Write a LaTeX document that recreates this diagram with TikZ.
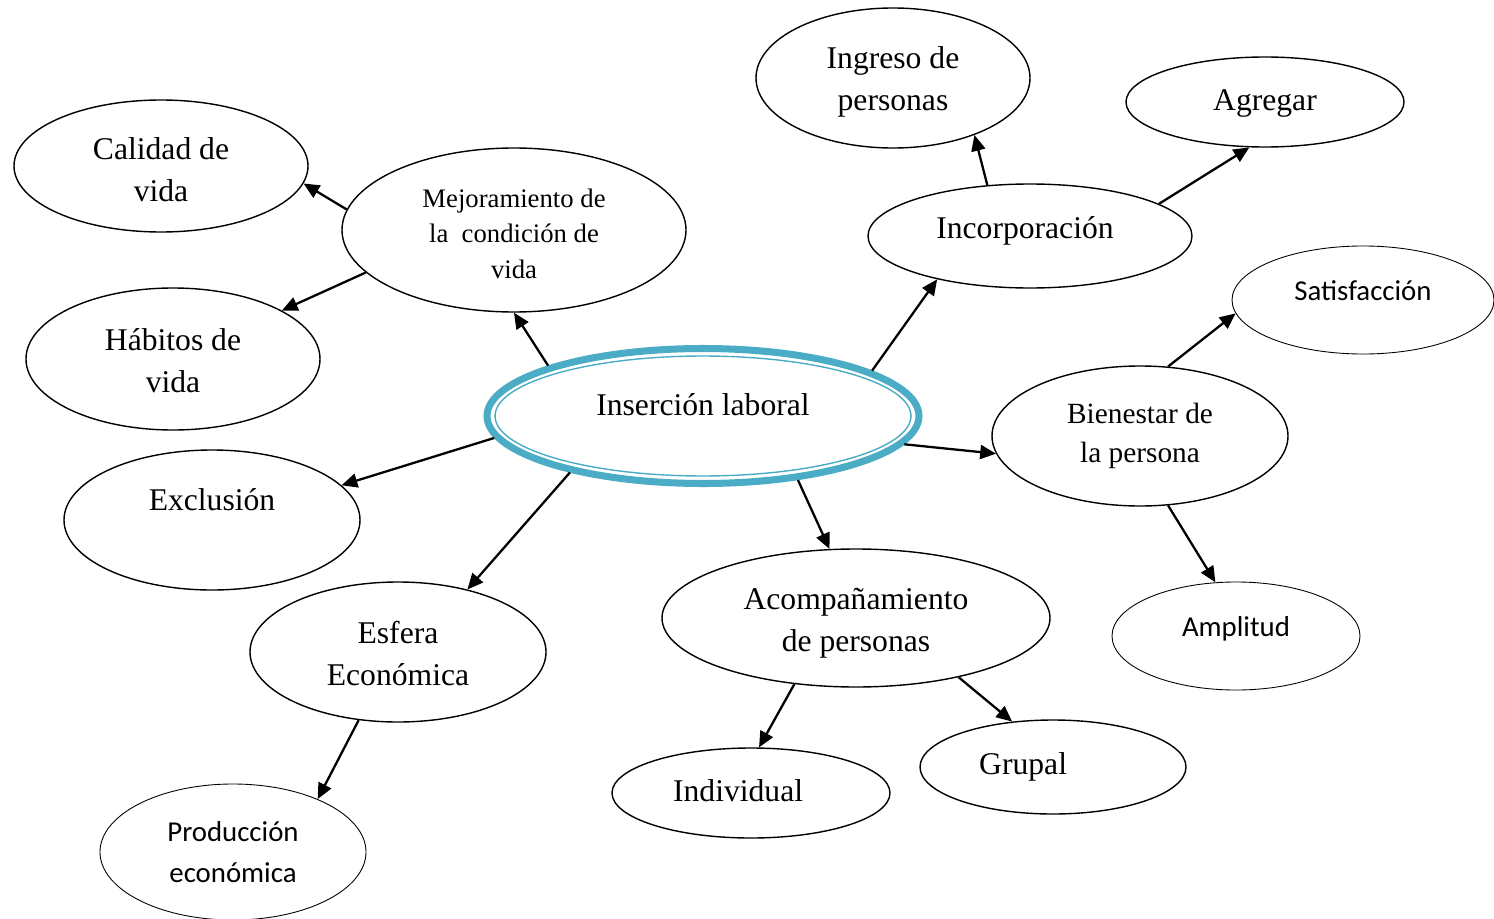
\documentclass[tikz,border=0pt]{standalone}
\usepackage{fontspec}
\setmainfont{Liberation Serif}
\newfontfamily\calfont{Carlito}
\usetikzlibrary{shapes.geometric,arrows.meta}
\definecolor{ringblue}{HTML}{4BACC6}
\tikzset{
  bub/.style 2 args={ellipse, draw, line width=0.8pt, inner sep=0pt, align=center,
    minimum width=#1*0.02cm, minimum height=#2*0.02cm,
    font=\fontsize{18pt}{24pt}\selectfont},
  sansbub/.style={line width=0.5pt, font=\calfont\fontsize{16.4pt}{23pt}\selectfont},
  arr/.style={-{Triangle[length=9pt,width=8pt]}, line width=1.3pt},
}
\newcommand{\lift}[2]{\raisebox{#1}[0pt][0pt]{#2}}
\newcommand{\toprule}[1]{\rule{0pt}{#1}}
\newcommand{\link}[2]{\draw[arr] (#1) -- (#2);}

\begin{document}
\begin{tikzpicture}[x=0.02cm, y=-0.02cm]
        \useasboundingbox (0,0) rectangle (1494,919);

        % centre
        \node[bub={432}{135}, draw=ringblue, line width=4pt] (ins) at (703,416) {\lift{0.4pt}{Inserción laboral}};
        \draw[ringblue, line width=0.8pt] (ins.center) ellipse [x radius=4.16cm, y radius=1.2cm];

        % left side
        \node[bub={294}{132}] (cal) at (161,166) {\toprule{16.8pt}Calidad de\\vida};
        \node[bub={344}{164}, font=\fontsize{15.2pt}{20pt}\selectfont] (mej) at (514,230) {\toprule{14.9pt}Mejoramiento de\\la\ \ condición de\\vida};
        \node[bub={294}{142}] (hab) at (173,359) {\toprule{14.6pt}Hábitos de\\vida};
        \node[bub={296}{140}] (exc) at (212,520) {\lift{5.5pt}{Exclusión}};
        \node[bub={296}{140}] (esf) at (398,652) {\toprule{14.6pt}Esfera\\Económica};
        \node[bub={266}{136}, sansbub] (pro) at (233,852) {Producción\\económica};

        % right side
        \node[bub={274}{140}] (ing) at (893,78) {\toprule{16.8pt}Ingreso de\\personas};
        \node[bub={278}{90}] (agr) at (1265,102) {\lift{-5.1pt}{Agregar}};
        \node[bub={324}{104}] (inc) at (1030,236) {\lift{-1.7pt}{Incorporación}\hspace*{5.7pt}};
        \node[bub={262}{108}, sansbub] (sat) at (1363,300) {\lift{-0.4pt}{Satisfacción}};
        \node[bub={296}{140}, font=\fontsize{16.7pt}{22pt}\selectfont] (bie) at (1140,436) {Bienestar de\\la persona};
        \node[bub={248}{108}, sansbub] (amp) at (1236,636) {\lift{-0.4pt}{Amplitud}};

        % bottom
        \node[bub={388}{138}] (aco) at (856,618) {\toprule{18pt}Acompañamiento\\de personas};
        \node[bub={278}{90}] (ind) at (751,793) {\lift{-5.1pt}{Individual}\hspace*{14.7pt}};
        \node[bub={266}{94}] (gru) at (1053,767) {Grupal\hspace*{34pt}};

        % arrows
        \link{mej.173}{cal.353}
        \link{mej.196}{hab.24}
        \link{ins.162}{mej.270}
        \link{ins.186}{exc.15}
        \link{ins.203}{esf.42}
        \link{esf.240}{pro.32}
        \link{ins.15}{inc.205}
        \link{inc.130}{ing.325}
        \link{inc.14}{agr.251}
        \link{ins.352}{bie.187}
        \link{bie.68}{sat.186}
        \link{bie.292}{amp.111}
        \link{ins.326}{aco.111}
        \link{aco.227}{ind.80}
        \link{aco.330}{gru.132}

    \end{tikzpicture}
\end{document}
